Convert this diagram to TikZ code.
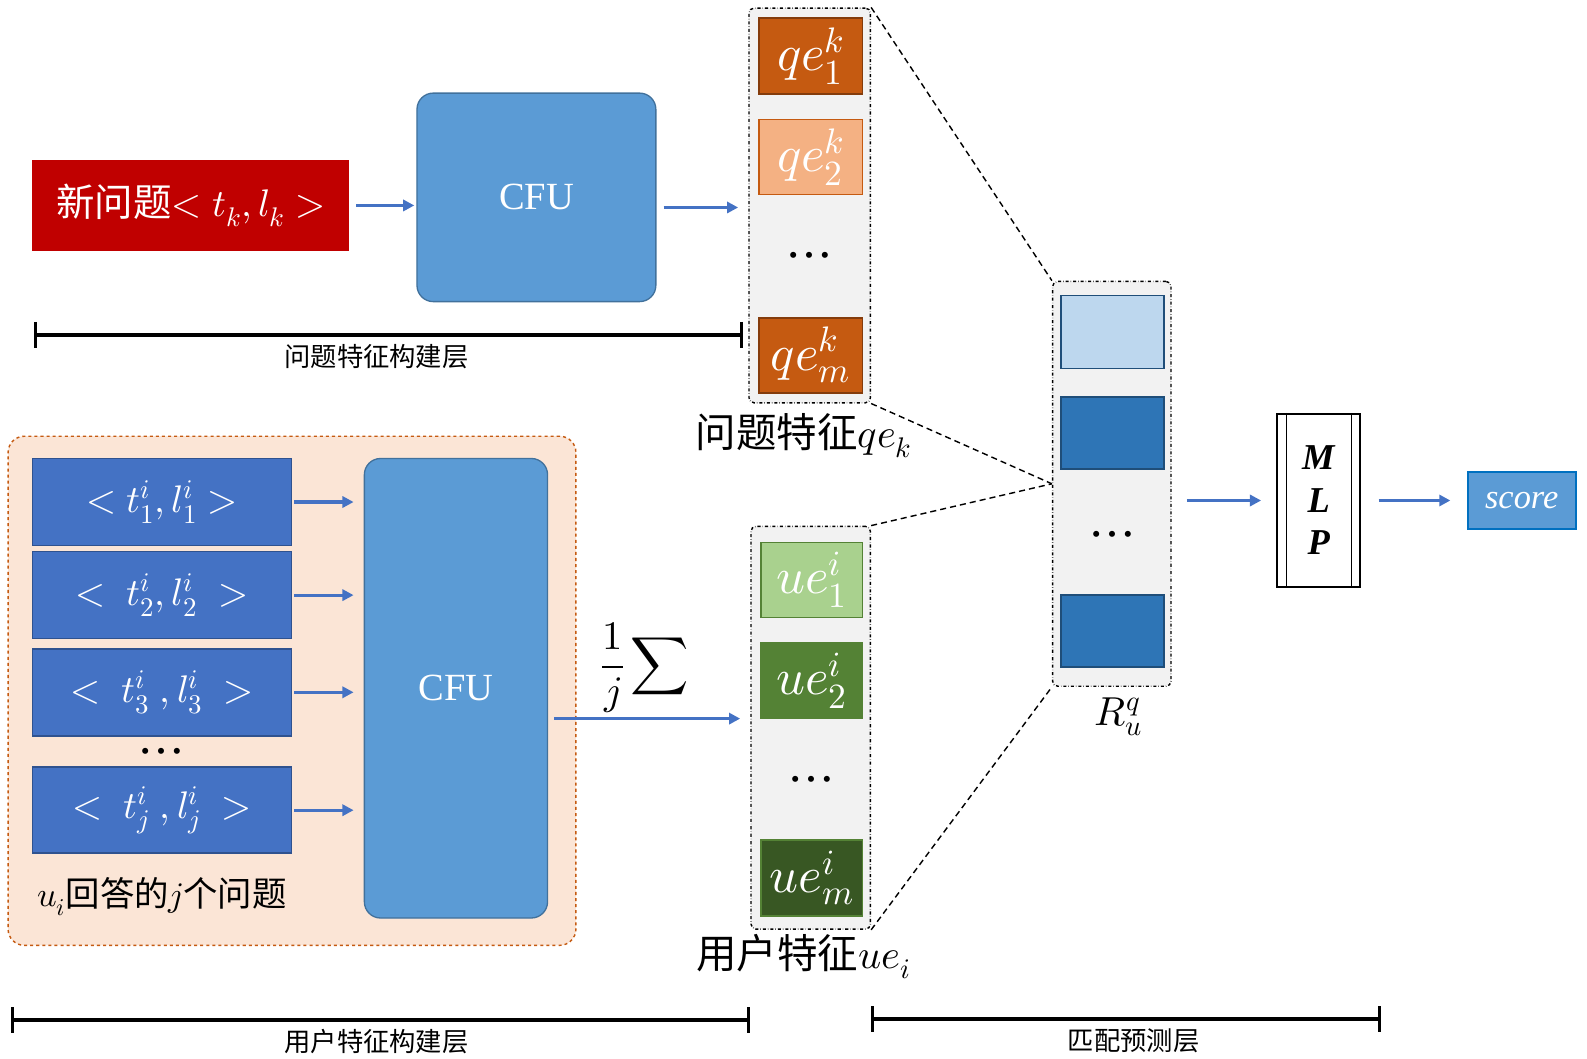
\documentclass[tikz,border=0pt]{standalone}
\usepackage{fontspec}
\usepackage{unicode-math}
\setmainfont{Liberation Serif}
\setmathfont{latinmodern-math.otf}
\newfontfamily\cjk{Noto Sans CJK SC}
\usetikzlibrary{arrows.meta,calc}
\newcommand\setfs[1]{\fontsize{#1}{#1}\selectfont}
\definecolor{cred}{HTML}{C00000}
\definecolor{cfufill}{HTML}{5B9BD5}
\definecolor{cfuline}{HTML}{41719C}
\definecolor{qedark}{HTML}{C55A11}
\definecolor{qedline}{HTML}{843C0C}
\definecolor{qelight}{HTML}{F4B183}
\definecolor{contfill}{HTML}{F2F2F2}
\definecolor{rlight}{HTML}{BDD7EE}
\definecolor{rdark}{HTML}{2E75B6}
\definecolor{rline}{HTML}{1F4E79}
\definecolor{uelight}{HTML}{A9D18E}
\definecolor{uemid}{HTML}{548235}
\definecolor{uedark}{HTML}{385723}
\definecolor{peach}{HTML}{FBE5D6}
\definecolor{bbox}{HTML}{4472C4}
\definecolor{bline}{HTML}{2F528F}
\definecolor{scline}{HTML}{0070C0}
\tikzset{
  arr/.style={draw=bbox, line width=3pt, -{Triangle[length=11pt,width=11pt]}},
  cont/.style={draw=black, fill=contfill, dash dot, line width=1.4pt, rounded corners=5pt, inner sep=0pt},
  cell/.style={line width=1.6pt, inner sep=0pt, minimum width=102pt, text=white, font=\setfs{50}},
  blk/.style={fill=bbox, draw=bline, line width=1.5pt, minimum width=256pt, inner sep=0pt, text=white, font=\setfs{38}},
  cfu/.style={fill=cfufill, draw=cfuline, line width=1.3pt, rounded corners=16pt, inner sep=0pt, text=white, font=\setfs{38}},
  dotsn/.style={inner sep=0pt, font=\setfs{56}},
  dashln/.style={line width=1.4pt, dash pattern=on 6pt off 4pt},
  bar/.style={line width=4pt},
  tick/.style={line width=3pt},
  lab/.style={inner sep=0pt, font=\setfs{26}\cjk}
}
\begin{document}
\begin{tikzpicture}[x=1pt,y=-1pt]
\useasboundingbox (0,0) rectangle (1568,1046);
% peach container
\node[fill=peach, draw=qedark, dashed, line width=1.4pt, rounded corners=16pt, minimum width=561pt, minimum height=503pt, inner sep=0pt] (peach) at (288.5,682.5) {};
% top row
\node[fill=cred, minimum width=313pt, minimum height=90pt, inner sep=0pt, text=white, font=\setfs{38}] (red) at (188.5,203) {{\cjk 新问题}$<t_k,l_k>$};
\node[cfu, minimum width=236pt, minimum height=206pt] (cfu1) at (530,195) {CFU};
% question feature container
\node[cont, minimum width=120pt, minimum height=390pt] (cont1) at (800,203) {};
\node[cell, fill=qedark, draw=qedline, minimum height=75pt] (qe1) at (801,55.5) {$qe_1^k$};
\node[cell, fill=qelight, draw=qedark, minimum height=74pt] (qe2) at (801,155) {$qe_2^k$};
\node[dotsn] (dots1) at (800,258) {$\cdots$};
\node[cell, fill=qedark, draw=qedline, minimum height=74pt] (qem) at (801,351) {$qe_m^k$};
\node[inner sep=0pt, font=\setfs{40}] (qelab) at (794,430) {{\cjk 问题特征}$qe_k$};
% R container
\node[cont, minimum width=117pt, minimum height=400pt] (cont2) at (1098.5,478) {};
\node[cell, fill=rlight, draw=rline, minimum height=72pt, line width=1.8pt] (r1) at (1099,328) {};
\node[cell, fill=rdark, draw=rline, minimum height=71pt, line width=1.8pt] (r2) at (1099,427.5) {};
\node[dotsn] (dots2) at (1099,533) {$\cdots$};
\node[cell, fill=rdark, draw=rline, minimum height=71pt, line width=1.8pt] (r3) at (1099,623.5) {};
\node[inner sep=0pt, font=\setfs{40}] (rlab) at (1105,708) {$R_u^q$};
% MLP and score
\node[draw=black, line width=2pt, minimum width=82pt, minimum height=171pt, inner sep=0pt, align=center, font=\setfs{36}] (mlp) at (1303,494.5) {\textbf{\textit{M}}\\[6pt]\textbf{\textit{L}}\\[6pt]\textbf{\textit{P}}};
\draw[line width=1.2pt] ([xshift=10pt]mlp.north west) -- ([xshift=10pt]mlp.south west);
\draw[line width=1.2pt] ([xshift=-10pt]mlp.north east) -- ([xshift=-10pt]mlp.south east);
\node[fill=cfufill, draw=scline, line width=2pt, minimum width=107pt, minimum height=57pt, inner sep=0pt, text=white, font=\setfs{34}] (score) at (1503.5,494.5) {\textit{score}};
% left blocks
\node[blk, minimum height=86pt] (b1) at (160,496) {$<t_1^i,l_1^i>$};
\node[blk, minimum height=86pt] (b2) at (160,588) {$<\;t_2^i,l_2^i\;>$};
\node[blk, minimum height=86pt] (b3) at (160,684) {$<\;t_3^i\;,l_3^i\;>$};
\node[dotsn] (dots3) at (160,748) {$\cdots$};
\node[blk, minimum height=85pt] (b4) at (160,800.5) {$<\;t_j^i\;,l_j^i\;>$};
\node[cfu, minimum width=181pt, minimum height=454pt] (cfu2) at (450.5,680) {CFU};
\node[inner sep=0pt, font=\setfs{34}] (ulab) at (160,886) {$u_i${\cjk 回答的}$j${\cjk 个问题}};
% user feature container
\node[cont, minimum width=118pt, minimum height=398pt] (cont3) at (801,719) {};
\node[cell, fill=uelight, draw=uemid, minimum width=100pt, minimum height=74pt] (ue1) at (802,573) {$ue_1^i$};
\node[cell, fill=uemid, draw=uemid, minimum width=100pt, minimum height=75pt] (ue2) at (802,672.5) {$ue_2^i$};
\node[dotsn] (dots4) at (802,776) {$\cdots$};
\node[cell, fill=uedark, draw=uemid, minimum width=100pt, minimum height=75pt] (uem) at (802,867.5) {$ue_m^i$};
\node[inner sep=0pt, font=\setfs{40}] (uelab) at (794,945) {{\cjk 用户特征}$ue_i$};
% arrows
\draw[arr, shorten <=7pt, shorten >=2pt] (red.east) -- (red.east -| cfu1.west);
\coordinate (ya) at (0,205);
\draw[arr, shorten <=7pt, shorten >=10pt] (ya -| cfu1.east) -- (ya -| cont1.west);
\foreach \b in {b1,b2,b3,b4}{
  \draw[arr, shorten <=2pt, shorten >=10pt] (\b.east) -- (\b.east -| cfu2.west);
}
\coordinate (ys) at (0,710);
\draw[arr, shorten <=6pt, shorten >=10pt] (ys -| cfu2.east) -- (ys -| cont3.west) node[pos=0.48, above=4pt, text=black, inner sep=0pt, font=\setfs{40}] (sumlab) {$\displaystyle\frac{1}{j}\sum$};
\draw[arr, shorten <=15pt, shorten >=15pt] (mlp.west -| cont2.east) -- (mlp.west);
\draw[arr, shorten <=17pt, shorten >=16pt] (mlp.east) -- (score.west);
% dashed connectors
\draw[dashln] (cont1.north east) -- (cont2.north west);
\draw[dashln] (cont1.south east) -- (cont2.west);
\draw[dashln] (cont3.north east) -- (cont2.west);
\draw[dashln] (cont3.south east) -- (cont2.south west);
% brackets
\draw[bar] (35,331) -- (733,331);
\draw[tick] (35,318) -- (35,344);
\draw[tick] (733,318) -- (733,344);
\node[lab] (l1) at (372,352) {问题特征构建层};
\draw[bar] (12,1008) -- (740,1008);
\draw[tick] (12,995) -- (12,1021);
\draw[tick] (740,995) -- (740,1021);
\node[lab] (l2) at (372,1029) {用户特征构建层};
\draw[bar] (862,1007) -- (1363,1007);
\draw[tick] (862,994) -- (862,1020);
\draw[tick] (1363,994) -- (1363,1020);
\node[lab] (l3) at (1120,1028) {匹配预测层};
\end{tikzpicture}
\end{document}
